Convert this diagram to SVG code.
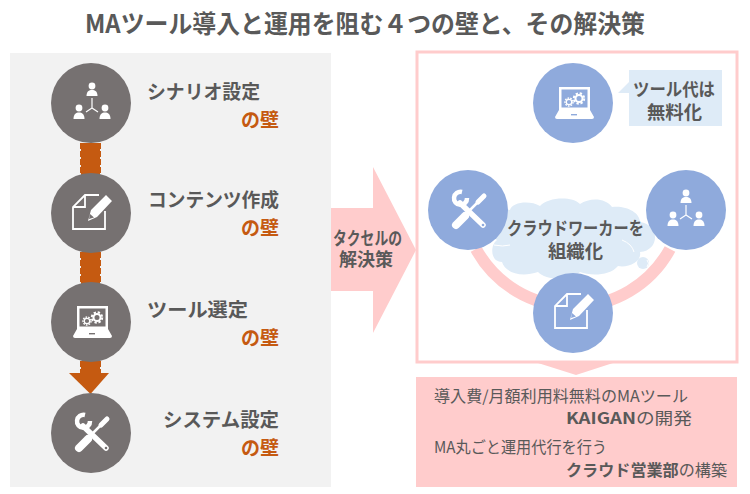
<svg xmlns="http://www.w3.org/2000/svg" width="750" height="494" viewBox="0 0 750 494">
<style>
text{font-family:"Noto Sans CJK JP","Liberation Sans",sans-serif;fill:#595959}
.b{font-weight:700}
.h{font-weight:700;font-size:19.500px}
.w{font-weight:700;font-size:19.500px;fill:#C55A11}
.c{font-weight:700;font-size:18px}
.r{font-size:16px}
.g{fill:#767171}
.l{fill:#8FAADC}
.i{fill:#fff;stroke:none}
.o{fill:none;stroke:#fff}
</style>
<defs>
<g id="people"><circle cx="0" cy="-18" r="3.400" class="i"/><path class="i" d="M-5.500-8c0-4.500 2.500-6 5.500-6s5.500 1.500 5.500 6z"/><circle cx="-13" cy="4" r="3.400" class="i"/><path class="i" d="M-18.500 15c0-5 2.500-6.500 5.500-6.500s5.500 1.500 5.500 6.500z"/><circle cx="13" cy="4" r="3.400" class="i"/><path class="i" d="M7.500 15c0-5 2.500-6.500 5.500-6.500s5.500 1.500 5.500 6.500z"/><path class="o" stroke-width="1.200" d="M0-6V4L-6 8M0 4L6 8"/></g>
<g id="doc"><path class="o" stroke-width="1.800" d="M8-18H-6L-18-6V16H14V-2M-6-18V-6H-18"/><path class="i" d="M-3 8L0-3 15-18 21-12 6 4zM-1 1L-2 6 3 4.500z"/></g>
<g id="laptop"><path class="i" d="M-15-15H16V8H-15zM-19 15L-15 8H16L20 15Q20 17 18 17H-17Q-19 17-19 15z"/><rect x="-12.500" y="-12.500" width="26" height="18" fill="currentColor"/><rect x="-3" y="12" width="6" height="1.400" fill="currentColor"/><circle cx="-5" cy="0" r="4" fill="none" stroke="#fff" stroke-width="1.400" stroke-dasharray="1.700 1.100"/><circle cx="-5" cy="0" r="2.700" fill="none" stroke="#fff" stroke-width="1.200"/><circle cx="5" cy="-3.500" r="5.200" fill="none" stroke="#fff" stroke-width="2" stroke-dasharray="2.300 1.800"/><circle cx="5" cy="-3.500" r="3.500" fill="none" stroke="#fff" stroke-width="2"/></g>
<g id="tools"><path class="o" stroke-width="5.500" stroke-linecap="round" d="M-9-7L14 15"/><path class="o" stroke-width="4.500" d="M-7-18A6.500 6.500 0 1 0-2-12"/><circle cx="14" cy="15" r="1.300" fill="currentColor"/><path class="o" stroke-width="8" stroke-linecap="round" d="M-13 15L-4 6"/><path class="o" stroke-width="2.500" d="M1 0L10-9"/><path class="o" stroke-width="5" stroke-linecap="round" d="M9-8L15-14"/></g>
</defs>
<rect width="750" height="494" fill="#fff"/>
<text x="85" y="33" class="b" font-size="25" textLength="560" lengthAdjust="spacingAndGlyphs">MAツール導入と運用を阻む４つの壁と、その解決策</text>
<rect x="10" y="53" width="321" height="434" fill="#F2F2F2"/>
<g id="connectors">
<path d="M90.500 143V175M90.500 252V284M90.500 361V375" stroke="#C55A11" stroke-width="19" fill="none"/>
<path d="M90.500 143V175M90.500 252V284M90.500 361V373" stroke="#C55A11" stroke-width="21" stroke-dasharray="6 2" fill="none"/>
<path d="M69 373H109L90.500 394z" fill="#C55A11"/>
<path d="M476 249A110.500 110.500 0 0 0 670 249" stroke="#FFCCCC" stroke-width="12" fill="none"/>
<path d="M331 208H373V167L416 250 373 333V291H331z" fill="#FFCCCC"/>
<path d="M538 363H613L576 375z" fill="#FFCCCC"/>
</g>
<rect x="417" y="52" width="320" height="310" fill="none" stroke="#FFCCCC" stroke-width="3"/>
<g id="wall1"><circle cx="91" cy="103" r="40" class="g"/><use href="#people" x="92" y="104"/><text x="147" y="99" class="h" textLength="113" lengthAdjust="spacingAndGlyphs">シナリオ設定</text><text x="241" y="127" class="w" textLength="38" lengthAdjust="spacingAndGlyphs">の壁</text></g>
<g id="wall2" color="#767171"><circle cx="91" cy="213" r="40" class="g"/><use href="#doc" x="91" y="213"/><text x="148" y="207" class="h" textLength="131" lengthAdjust="spacingAndGlyphs">コンテンツ作成</text><text x="241" y="235" class="w" textLength="38" lengthAdjust="spacingAndGlyphs">の壁</text></g>
<g id="wall3" color="#767171"><circle cx="91" cy="322" r="40" class="g"/><use href="#laptop" x="92" y="321"/><text x="147" y="317" class="h" textLength="101" lengthAdjust="spacingAndGlyphs">ツール選定</text><text x="241" y="345" class="w" textLength="38" lengthAdjust="spacingAndGlyphs">の壁</text></g>
<g id="wall4" color="#767171"><circle cx="91" cy="433" r="40" class="g"/><use href="#tools" x="92" y="433"/><text x="163" y="427" class="h" textLength="116" lengthAdjust="spacingAndGlyphs">システム設定</text><text x="241" y="455" class="w" textLength="38" lengthAdjust="spacingAndGlyphs">の壁</text></g>
<g id="takusel"><text class="c"><tspan x="333" y="245" textLength="69" lengthAdjust="spacingAndGlyphs">タクセルの</tspan><tspan x="339" y="266" textLength="54" lengthAdjust="spacingAndGlyphs">解決策</tspan></text></g>
<g id="cloud"><path fill="#DEEBF7" d="M497 222C490 214 498 207 510 210C512 202 530 200 540 206C548 197 572 196 580 204C590 197 606 198 612 207C625 205 640 212 640 222C660 225 660 250 640 252C642 262 628 268 618 266C610 276 590 276 580 272C570 282 545 280 538 272C520 278 505 272 502 262C490 262 490 245 497 240C490 235 490 228 497 222z"/><path d="M494 245Q503 247 510 245M622 240Q632 244 634 252" fill="none" stroke="#fff" stroke-width="1"/><circle cx="643" cy="263" r="6" fill="#DEEBF7"/><path d="M647 260Q650 263 647 267" fill="none" stroke="#fff" stroke-width="1"/></g>
<g id="node-tools" color="#8FAADC"><circle cx="468" cy="210" r="40" class="l"/><use href="#tools" x="469" y="210"/></g>
<g id="node-people"><circle cx="686" cy="210" r="40" class="l"/><use href="#people" x="686" y="211"/></g>
<g id="node-doc" color="#8FAADC"><circle cx="573" cy="313" r="40" class="l"/><use href="#doc" x="573" y="312"/></g>
<g id="node-laptop" color="#8FAADC"><circle cx="573" cy="103" r="40" class="l"/><use href="#laptop" x="574" y="102"/></g>
<text class="c"><tspan x="507" y="235" textLength="137" lengthAdjust="spacingAndGlyphs">クラウドワーカーを</tspan><tspan x="548" y="258" textLength="55" lengthAdjust="spacingAndGlyphs">組織化</tspan></text>
<g id="callout"><path fill="#DEEBF7" d="M629 70H722V126H629V93H618L629 82z"/><text class="c"><tspan x="633" y="96" textLength="82" lengthAdjust="spacingAndGlyphs">ツール代は</tspan><tspan x="647" y="119" textLength="55" lengthAdjust="spacingAndGlyphs">無料化</tspan></text></g>
<g id="result"><rect x="416" y="377" width="321" height="110" fill="#FFCCCC"/>
<text x="434" y="402" class="r" textLength="254" lengthAdjust="spacingAndGlyphs">導入費/月額利用料無料のMAツール</text>
<text x="566" y="424" class="r" textLength="126" lengthAdjust="spacingAndGlyphs"><tspan class="b">KAIGAN</tspan>の開発</text>
<text x="434" y="453" class="r" textLength="173" lengthAdjust="spacingAndGlyphs">MA丸ごと運用代行を行う</text>
<text x="566" y="476" class="r" textLength="161" lengthAdjust="spacingAndGlyphs"><tspan class="b">クラウド営業部</tspan>の構築</text></g>
</svg>
